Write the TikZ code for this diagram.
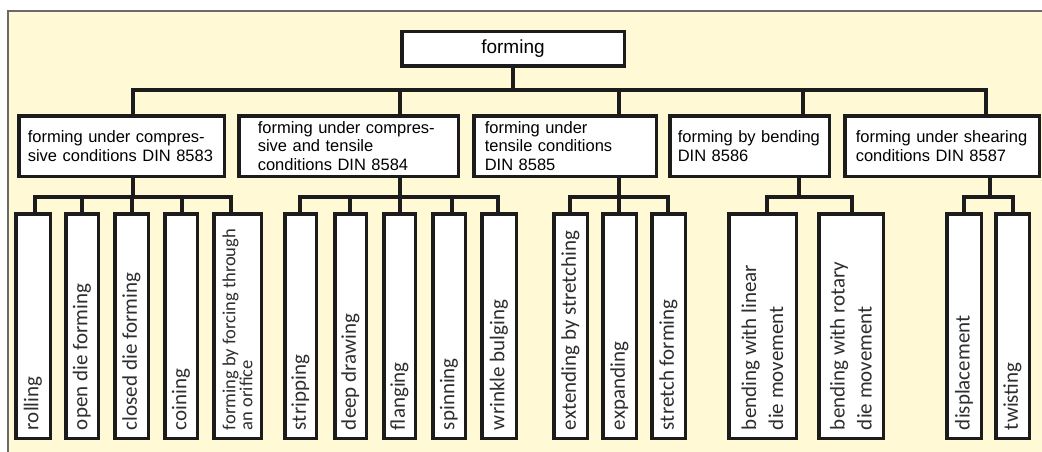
\documentclass[tikz,border=0pt]{standalone}
\usepackage{fontspec}
\setmainfont{Liberation Sans}
\newfontfamily\leaffont{Carlito}
\usepackage{graphicx}
\definecolor{cream}{HTML}{FFF9D5}
\definecolor{ink}{HTML}{1C1C1C}
\definecolor{leafink}{HTML}{2E2E2E}
\definecolor{frame}{HTML}{6A6A6A}
\newcommand\lt[2][21pt]{\rotatebox{90}{\parbox{208pt}{\raggedright #2}}}
\begin{document}
\begin{tikzpicture}[x=1pt,y=-1pt,
  conn/.style={draw=ink, line width=4.5pt},
  box/.style={draw=ink, line width=3.5pt, fill=white, inner sep=0pt},
  cat/.style={box, minimum height=60.5pt, align=left, inner xsep=11pt, font=\fontsize{16.5}{18.5}\selectfont},
  leafbox/.style={box, minimum height=224.5pt, font=\leaffont\fontsize{21}{22}\selectfont, text=leafink},
]
\useasboundingbox (0,0) rectangle (1042,452);
\fill[cream] (8,11) rectangle (1042,452);
\draw[frame, line width=1.3pt] (8,452) -- (8,11) -- (1042,11);

% top
\node[box, minimum width=222.5pt, minimum height=34.5pt, font=\fontsize{19}{22}\selectfont] (top) at (513,49) {forming};

% categories
\node[cat, inner xsep=9pt, text width=187.5pt] (c1) at (121.5,146) {forming under compres-\\sive conditions DIN 8583};
\node[cat, inner xsep=19pt, text width=181.5pt] (c2) at (348.5,146) {forming under compres-\\sive and tensile\\conditions DIN 8584};
\node[cat, text width=160.5pt] (c3) at (565,146) {forming under\\tensile conditions\\DIN 8585};
\node[cat, inner xsep=8pt, text width=143.5pt] (c4) at (749.5,146) {forming by bending\\DIN 8586};
\node[cat, text width=172.5pt] (c5) at (942,146) {forming under shearing\\conditions DIN 8587};

% leaves
\node[leafbox, minimum width=34.5pt] (l11) at (33,326) {\lt{rolling}};
\node[leafbox, minimum width=32.5pt] (l12) at (82,326) {\lt{open die forming}};
\node[leafbox, minimum width=33.5pt] (l13) at (131.5,326) {\lt{closed die forming}};
\node[leafbox, minimum width=32.5pt] (l14) at (181,326) {\lt{coining}};
\node[leafbox, minimum width=47.5pt, font=\leaffont\fontsize{18.5}{17}\selectfont] (l15) at (237.5,326) {\lt{forming by forcing through\\an orifice}};

\node[leafbox, minimum width=31.5pt] (l21) at (300.5,326) {\lt{stripping}};
\node[leafbox, minimum width=31.5pt] (l22) at (350.5,326) {\lt{deep drawing}};
\node[leafbox, minimum width=31.5pt] (l23) at (399.5,326) {\lt{flanging}};
\node[leafbox, minimum width=32.5pt] (l24) at (449,326) {\lt{spinning}};
\node[leafbox, minimum width=34.5pt] (l25) at (499,326) {\lt{wrinkle bulging}};

\node[leafbox, minimum width=33.5pt] (l31) at (570.5,326) {\lt{extending by stretching}};
\node[leafbox, minimum width=33.5pt] (l32) at (619.5,326) {\lt{expanding}};
\node[leafbox, minimum width=33.5pt] (l33) at (668.5,326) {\lt{stretch forming}};

\node[leafbox, minimum width=67.5pt, font=\leaffont\fontsize{21}{27}\selectfont] (l41) at (762.5,326) {\lt{bending with linear\\die movement}};
\node[leafbox, minimum width=64.5pt, font=\leaffont\fontsize{21}{27}\selectfont] (l42) at (851,326) {\lt{bending with rotary\\die movement}};

\node[leafbox, minimum width=34.5pt] (l51) at (964,326) {\lt{displacement}};
\node[leafbox, minimum width=33.5pt] (l52) at (1012.5,326) {\lt{twisting}};

% main bus
\coordinate (t1) at (133,90);
\coordinate (t2) at (400,90);
\coordinate (t3) at (619,90);
\coordinate (t4) at (803,90);
\coordinate (t5) at (986,90);
\draw[conn] (top.south) -- (top.south |- t1);
\draw[conn] (c1.north -| t1) -- (t1) -- (t5) -- (c5.north -| t5);
\draw[conn] (t2) -- (c2.north -| t2);
\draw[conn] (t3) -- (c3.north -| t3);
\draw[conn] (t4) -- (c4.north -| t4);

% sub buses
\coordinate (s1) at (133,197);
\coordinate (s2) at (400,197);
\coordinate (s3) at (619,197);
\coordinate (s4) at (799,197);
\coordinate (s5) at (990,197);
\draw[conn] (c1.south -| s1) -- (s1);
\draw[conn] (c2.south -| s2) -- (s2);
\draw[conn] (c3.south -| s3) -- (s3);
\draw[conn] (c4.south -| s4) -- (s4);
\draw[conn] (c5.south -| s5) -- (s5);

% group 1
\coordinate (a11) at (35,197);
\coordinate (a12) at (82,197);
\coordinate (a13) at (132,197);
\coordinate (a14) at (182,197);
\coordinate (a15) at (231,197);
\draw[conn] (l11.north -| a11) -- (a11) -- (a15) -- (l15.north -| a15);
\draw[conn] (a12) -- (l12.north -| a12);
\draw[conn] (a13) -- (l13.north -| a13);
\draw[conn] (a14) -- (l14.north -| a14);

% group 2
\coordinate (a21) at (300,197);
\coordinate (a22) at (350,197);
\coordinate (a23) at (400,197);
\coordinate (a24) at (452,197);
\coordinate (a25) at (498,197);
\draw[conn] (l21.north -| a21) -- (a21) -- (a25) -- (l25.north -| a25);
\draw[conn] (a22) -- (l22.north -| a22);
\draw[conn] (a23) -- (l23.north -| a23);
\draw[conn] (a24) -- (l24.north -| a24);

% group 3
\coordinate (a31) at (570,197);
\coordinate (a32) at (619,197);
\coordinate (a33) at (668,197);
\draw[conn] (l31.north -| a31) -- (a31) -- (a33) -- (l33.north -| a33);
\draw[conn] (a32) -- (l32.north -| a32);

% group 4
\coordinate (a41) at (767,197);
\coordinate (a42) at (852,197);
\draw[conn] (l41.north -| a41) -- (a41) -- (a42) -- (l42.north -| a42);

% group 5
\coordinate (a51) at (964,197);
\coordinate (a52) at (1013,197);
\draw[conn] (l51.north -| a51) -- (a51) -- (a52) -- (l52.north -| a52);
\end{tikzpicture}
\end{document}
